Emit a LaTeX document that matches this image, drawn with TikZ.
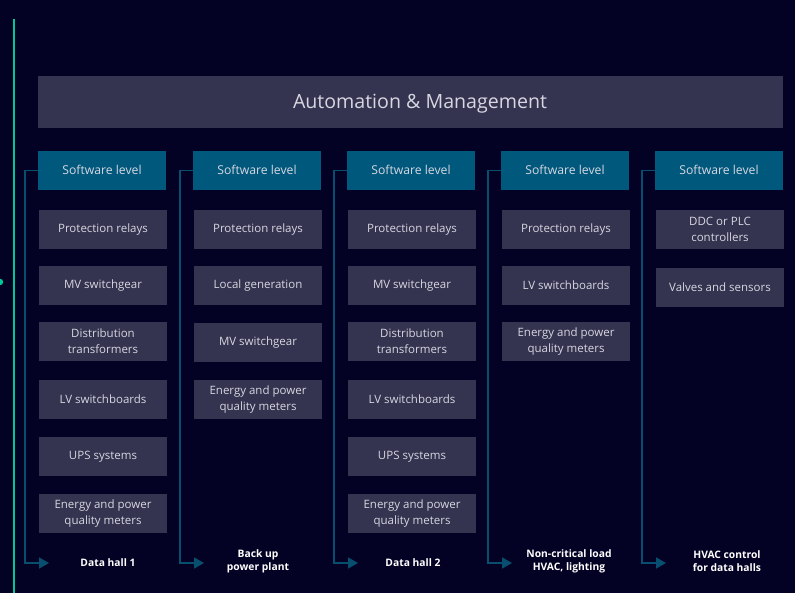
\documentclass[tikz,border=0pt]{standalone}
\usepackage{fontspec}
\setmainfont{Open Sans}
\usetikzlibrary{arrows.meta}
\definecolor{bgnavy}{RGB}{3,1,36}
\definecolor{panel}{RGB}{52,51,80}
\definecolor{swteal}{RGB}{0,88,124}
\definecolor{linkteal}{RGB}{8,78,110}
\definecolor{accent}{RGB}{0,200,150}
\definecolor{txt}{RGB}{215,215,225}
\tikzset{
  swbox/.style={rectangle, fill=swteal, minimum width=128pt, minimum height=39pt,
    inner sep=0pt, text=txt, font=\fontsize{12.2}{13}\selectfont, align=center,
    text height=9pt, text depth=1pt},
  itembox/.style={rectangle, fill=panel, minimum width=128pt, minimum height=39pt,
    inner sep=0pt, text=txt, font=\fontsize{11.5}{15.8}\selectfont, align=center},
  hall/.style={text=white, font=\bfseries\fontsize{10.3}{13}\selectfont, align=center, inner sep=0pt},
  link/.style={draw=linkteal, line width=1.6pt, -{Triangle[length=10pt,width=11pt]}}
}
\begin{document}
\begin{tikzpicture}[x=1pt,y=-1pt]
  \fill[bgnavy] (0,0) rectangle (795,593);
  \useasboundingbox (0,0) rectangle (795,593);

  % side accent
  \draw[accent, line width=2pt] (14,19) -- (14,593);
  \fill[accent] (0,282) circle (3.2);

  % header
  \node[rectangle, fill=panel, minimum width=745pt, minimum height=52pt, inner sep=0pt] (head) at (410.5,102) {};
  \node[text=txt, font=\fontsize{19.6}{22}\selectfont, inner sep=0pt] (title) at (420,103.5) {Automation \& Management};

  % software level row
  \node[swbox] (sw1) at (102,170.5) {Software level};
  \node[swbox] (sw2) at (257,170.5) {Software level};
  \node[swbox] (sw3) at (411,170.5) {Software level};
  \node[swbox] (sw4) at (565,170.5) {Software level};
  \node[swbox] (sw5) at (719,170.5) {Software level};

  % column 1: data hall 1
  \node[itembox] (c1a) at (103,229.5) {Protection relays};
  \node[itembox] (c1b) at (103,285.5) {MV switchgear};
  \node[itembox] (c1c) at (103,341.5) {Distribution\\transformers};
  \node[itembox] (c1d) at (103,399.5) {LV switchboards};
  \node[itembox] (c1e) at (103,456.5) {UPS systems};
  \node[itembox] (c1f) at (103,513.5) {Energy and power\\quality meters};

  % column 2: back up power plant
  \node[itembox] (c2a) at (258,229.5) {Protection relays};
  \node[itembox] (c2b) at (258,285.5) {Local generation};
  \node[itembox] (c2c) at (258,342.5) {MV switchgear};
  \node[itembox] (c2d) at (258,399.5) {Energy and power\\quality meters};

  % column 3: data hall 2
  \node[itembox] (c3a) at (412,229.5) {Protection relays};
  \node[itembox] (c3b) at (412,285.5) {MV switchgear};
  \node[itembox] (c3c) at (412,341.5) {Distribution\\transformers};
  \node[itembox] (c3d) at (412,399.5) {LV switchboards};
  \node[itembox] (c3e) at (412,456.5) {UPS systems};
  \node[itembox] (c3f) at (412,513.5) {Energy and power\\quality meters};

  % column 4: non-critical load
  \node[itembox] (c4a) at (566,229.5) {Protection relays};
  \node[itembox] (c4b) at (566,285.5) {LV switchboards};
  \node[itembox] (c4c) at (566,341.5) {Energy and power\\quality meters};

  % column 5: HVAC control
  \node[itembox] (c5a) at (720,229.5) {DDC or PLC\\controllers};
  \node[itembox] (c5b) at (720,287.5) {Valves and sensors};

  % load labels
  \node[hall] (h1) at (108,563) {Data hall 1};
  \node[hall] (h2) at (258,561) {Back up\\power plant};
  \node[hall] (h3) at (413,563) {Data hall 2};
  \node[hall] (h4) at (569,561) {Non-critical load\\HVAC, lighting};
  \node[hall] (h5) at (727,561) {HVAC control\\for data halls};

  % arrow end points
  \coordinate (e1) at (49,563);
  \coordinate (e2) at (204,563);
  \coordinate (e3) at (358,563);
  \coordinate (e4) at (512,563);
  \coordinate (e5) at (666,563);

  % connectors
  \draw[link] (sw1.west) -- ++(-13,0) |- (e1);
  \draw[link] (sw2.west) -- ++(-13,0) |- (e2);
  \draw[link] (sw3.west) -- ++(-13,0) |- (e3);
  \draw[link] (sw4.west) -- ++(-13,0) |- (e4);
  \draw[link] (sw5.west) -- ++(-13,0) |- (e5);
\end{tikzpicture}
\end{document}
